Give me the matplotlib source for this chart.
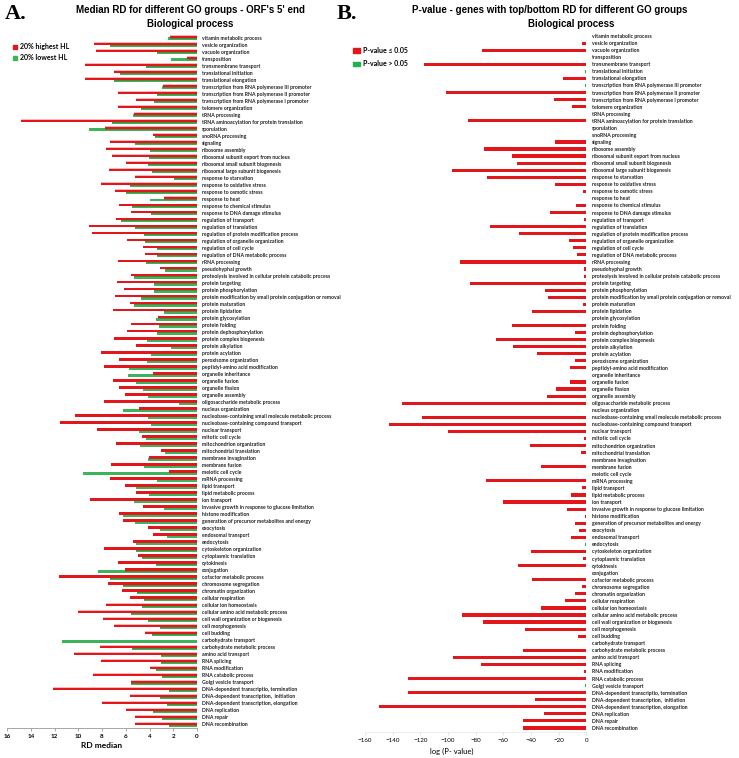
import numpy as np
import matplotlib
matplotlib.use("Agg")
import matplotlib.pyplot as plt

categories = [
    "vitamin metabolic process", "vesicle organization", "vacuole organization", "transposition",
    "transmembrane transport", "translational initiation", "translational elongation",
    "transcription from RNA polymerase III promoter", "transcription from RNA polymerase II promoter",
    "transcription from RNA polymerase I promoter", "telomere organization", "tRNA processing",
    "tRNA aminoacylation for protein translation", "sporulation", "snoRNA processing", "signaling",
    "ribosome assembly", "ribosomal subunit export from nucleus", "ribosomal small subunit biogenesis",
    "ribosomal large subunit biogenesis", "response to starvation", "response to oxidative stress",
    "response to osmotic stress", "response to heat", "response to chemical stimulus",
    "response to DNA damage stimulus", "regulation of transport", "regulation of translation",
    "regulation of protein modification process", "regulation of organelle organization",
    "regulation of cell cycle", "regulation of DNA metabolic process", "rRNA processing",
    "pseudohyphal growth", "proteolysis involved in cellular protein catabolic process",
    "protein targeting", "protein phosphorylation",
    "protein modification by small protein conjugation or removal", "protein maturation",
    "protein lipidation", "protein glycosylation", "protein folding", "protein dephosphorylation",
    "protein complex biogenesis", "protein alkylation", "protein acylation", "peroxisome organization",
    "peptidyl-amino acid modification", "organelle inheritance", "organelle fusion", "organelle fission",
    "organelle assembly", "oligosaccharide metabolic process", "nucleus organization",
    "nucleobase-containing small molecule metabolic process",
    "nucleobase-containing compound transport", "nuclear transport", "mitotic cell cycle",
    "mitochondrion organization", "mitochondrial translation", "membrane invagination",
    "membrane fusion", "meiotic cell cycle", "mRNA processing", "lipid transport",
    "lipid metabolic process", "ion transport", "invasive growth in response to glucose limitation",
    "histone modification", "generation of precursor metabolites and energy", "exocytosis",
    "endosomal transport", "endocytosis", "cytoskeleton organization", "cytoplasmic translation",
    "cytokinesis", "conjugation", "cofactor metabolic process", "chromosome segregation",
    "chromatin organization", "cellular respiration", "cellular ion homeostasis",
    "cellular amino acid metabolic process", "cell wall organization or biogenesis",
    "cell morphogenesis", "cell budding", "carbohydrate transport", "carbohydrate metabolic process",
    "amino acid transport", "RNA splicing", "RNA modification", "RNA catabolic process",
    "Golgi vesicle transport", "DNA-dependent transcriptio, termination",
    "DNA-dependent transcription,  initiation", "DNA-dependent transcription, elongation",
    "DNA replication", "DNA repair", "DNA recombination",
]

rd_high = [
    2.25, 8.65, 8.54, 0.84, 9.41, 7.02, 9.47, 2.89, 6.66, 5.14,
    6.66, 5.34, 14.8, 7.75, 3.68, 7.30, 7.67, 7.19, 5.96, 7.42,
    5.22, 8.09, 6.88, 2.81, 6.54, 5.59, 6.85, 9.13, 8.82, 5.87,
    4.52, 4.41, 6.66, 3.09, 5.53, 6.74, 6.15, 6.88, 5.67, 7.05,
    3.26, 5.56, 5.87, 6.97, 5.17, 8.06, 6.54, 7.81, 3.74, 7.05,
    6.54, 6.07, 7.81, 4.92, 10.31, 11.57, 8.46, 4.66, 6.85, 3.03,
    4.04, 7.28, 2.36, 7.36, 6.04, 5.17, 8.99, 4.55, 6.60, 6.21,
    4.13, 3.74, 5.37, 7.81, 4.97, 6.63, 6.07, 11.66, 7.47, 6.32,
    5.67, 7.64, 10.06, 7.95, 7.02, 4.35, 0.0, 8.17, 10.39, 8.09,
    3.93, 8.74, 5.53, 12.16, 5.62, 8.03, 6.01, 5.20, 5.22,
]

rd_low = [
    2.45, 7.36, 3.37, 2.16, 4.30, 6.52, 6.97, 2.98, 3.37, 3.65,
    4.72, 5.42, 7.19, 9.10, 3.54, 5.25, 3.93, 4.02, 4.13, 3.76,
    1.91, 5.62, 6.01, 3.93, 5.51, 3.85, 6.38, 5.20, 4.44, 4.41,
    3.34, 3.34, 4.33, 2.72, 5.31, 3.62, 3.60, 4.69, 5.28, 2.75,
    3.48, 3.23, 3.37, 4.19, 2.16, 3.88, 4.19, 5.76, 5.81, 5.17,
    4.55, 4.13, 1.54, 6.21, 4.13, 3.88, 4.92, 4.27, 4.83, 2.70,
    4.13, 4.47, 9.61, 3.34, 5.11, 4.02, 5.28, 2.75, 6.26, 5.25,
    3.09, 2.53, 5.11, 5.17, 4.61, 3.46, 8.31, 7.30, 6.26, 5.03,
    4.44, 4.63, 5.53, 4.13, 3.09, 3.76, 11.40, 5.45, 3.01, 3.01,
    3.46, 2.92, 5.59, 2.36, 3.12, 2.56, 3.68, 2.92, 2.39,
]

log_p = [
    -0.3, -3.0, -75.4, 0.0, -117.0, -1.0, -16.5, -1.0, -101.3, -23.2,
    -10.3, -0.3, -85.7, -0.3, -0.5, -22.5, -74.3, -53.7, -50.1, -97.0,
    -71.6, -22.5, -2.4, 0.0, -7.4, -26.1, -1.4, -69.7, -48.4, -12.2,
    -9.8, -6.7, -91.3, -1.9, -1.4, -84.1, -29.7, -28.0, -2.2, -39.3,
    -0.3, -53.7, -8.1, -65.1, -52.9, -35.7, -8.4, -12.0, 0.0, -11.7,
    -21.8, -28.5, -133.4, 0.0, -118.8, -143.0, -100.1, -1.4, -40.7, -3.6,
    -0.4, -33.0, 0.0, -72.6, -3.1, -11.0, -59.9, -13.7, -1.0, -7.9,
    -5.3, -11.3, -0.8, -40.0, -2.2, -49.6, 0.0, -39.0, -2.9, -8.1,
    -15.3, -32.8, -90.0, -75.0, -44.1, -5.7, 0.0, -46.0, -96.3, -76.2,
    -1.7, -129.1, -0.8, -129.1, -37.4, -150.0, -30.9, -46.0, -46.0,
]

# significance flag: True = p <= 0.05 (red), False = p > 0.05 (green)
significant = [
    False, True, True, False, True, False, True, False, True, True,
    True, False, True, False, False, True, True, True, True, True,
    True, True, True, False, True, True, True, True, True, True,
    True, True, True, True, True, True, True, True, True, True,
    False, True, True, True, True, True, True, True, False, True,
    True, True, True, False, True, True, True, True, True, True,
    False, True, False, True, True, True, True, True, True, True,
    True, True, False, True, True, True, False, True, True, True,
    True, True, True, True, True, True, False, True, True, True,
    True, True, False, True, True, True, True, True, True,
]

RED = "#E3161B"
PINK = "#F4B8B8"
GREEN = "#3DB35C"
OLIVE = "#4F8A35"
GREEN_B = "#22B04E"

W, H = 739, 758
fig = plt.figure(figsize=(W / 100, H / 100), dpi=100)
label_font = ["Lato", "DejaVu Sans"]
title_font = ["Liberation Sans", "DejaVu Sans"]

n = len(categories)
y = np.arange(n)

def fx(px):
    return px / W

def fy(py):
    return 1 - py / H

# ---------------- Panel A ----------------
axA = fig.add_axes([fx(7), fy(728), fx(190), (728 - 34) / H])
rh = np.array(rd_high)
rl = np.array(rd_low)
axA.barh(y + 0.18, rl, height=0.4, color=GREEN, linewidth=0)
axA.barh(y + 0.08, np.minimum(rh, rl), height=0.2, color=OLIVE, linewidth=0)
axA.barh(y - 0.12, rh, height=0.4, color=RED, linewidth=0)
axA.barh(y - 0.29, rh, height=0.06, color=PINK, linewidth=0)
axA.set_xlim(16, 0)
axA.set_ylim(n - 0.5, -0.5)
axA.set_xticks(np.arange(0, 17, 2))
axA.set_yticks(y)
axA.set_yticklabels(categories, fontsize=3.7, family=label_font, fontweight="bold", color="#222222")
axA.yaxis.tick_right()
axA.tick_params(axis="y", length=0, pad=3.6)
axA.tick_params(axis="x", length=2, width=0.6, color="#999999", labelsize=4.5, pad=2)
for lab in axA.get_xticklabels():
    lab.set_fontfamily(label_font)
    lab.set_fontweight("bold")
for s in ["top", "left", "right"]:
    axA.spines[s].set_visible(False)
axA.spines["bottom"].set_color("#999999")
axA.spines["bottom"].set_linewidth(0.6)
axA.patch.set_alpha(0)
fig.text(fx(102), fy(746), "RD median", fontsize=6, fontweight="bold", family=label_font,
         ha="center", va="center")

# ---------------- Panel B ----------------
axB = fig.add_axes([fx(365), fy(731.5), fx(586.3 - 365), (731.5 - 32.5) / H])
colsB = [RED if s else GREEN_B for s in significant]
axB.barh(y, log_p, height=0.45, color=colsB, linewidth=0)
axB.set_xlim(-160, 0)
axB.set_ylim(n - 0.5, -0.5)
axB.set_xticks(np.arange(-160, 1, 20))
axB.set_yticks(y)
axB.set_yticklabels(categories, fontsize=3.7, family=label_font, fontweight="bold", color="#222222")
axB.yaxis.tick_right()
axB.tick_params(axis="y", length=0, pad=3.9)
axB.tick_params(axis="x", length=2, width=0.5, color="#d9d9d9", labelsize=4.5, pad=3)
for lab in axB.get_xticklabels():
    lab.set_fontfamily(label_font)
for s in ["top", "left", "right"]:
    axB.spines[s].set_visible(False)
axB.spines["bottom"].set_color("#e6e6e6")
axB.spines["bottom"].set_linewidth(0.5)
axB.patch.set_alpha(0)
fig.text(fx(452), fy(751), "log (P- value)", fontsize=5.5, family=label_font,
         ha="center", va="center")

# ---------------- Titles ----------------
fig.text(fx(5), fy(14), "A.", fontsize=16, fontweight="bold", family=["Liberation Serif", "DejaVu Serif"],
         ha="left", va="center")
fig.text(fx(190), fy(10), "Median RD for different GO groups - ORF's 5' end", fontsize=7,
         fontweight="bold", family=title_font, ha="center", va="center")
fig.text(fx(190), fy(24), "Biological process", fontsize=7,
         fontweight="bold", family=title_font, ha="center", va="center")
fig.text(fx(337), fy(14), "B.", fontsize=16, fontweight="bold", family=["Liberation Serif", "DejaVu Serif"],
         ha="left", va="center")
fig.text(fx(550), fy(10), "P-value - genes with top/bottom RD for different GO groups", fontsize=7,
         fontweight="bold", family=title_font, ha="center", va="center")
fig.text(fx(571), fy(24), "Biological process", fontsize=7,
         fontweight="bold", family=title_font, ha="center", va="center")

# ---------------- Legends ----------------
legA = [("20% highest HL", RED, 47), ("20% lowest HL", GREEN, 58)]
for txt, c, py in legA:
    fig.patches.append(plt.Rectangle((fx(13), fy(py) - 2 / H), 4 / W, 4 / H, color=c,
                                     transform=fig.transFigure, figure=fig))
    fig.text(fx(20.5), fy(py), txt, fontsize=5, fontweight="bold", family=label_font,
             ha="left", va="center")

legB = [("P-value \u2264 0.05", RED, 50.5), ("P-value > 0.05", GREEN_B, 64)]
for txt, c, py in legB:
    fig.patches.append(plt.Rectangle((fx(353), fy(py) - 2.2 / H), 7 / W, 4.4 / H, color=c,
                                     transform=fig.transFigure, figure=fig))
    fig.text(fx(363), fy(py), txt, fontsize=5, fontweight="bold", family=label_font,
             ha="left", va="center")

fig.savefig("out.png", dpi=100)
